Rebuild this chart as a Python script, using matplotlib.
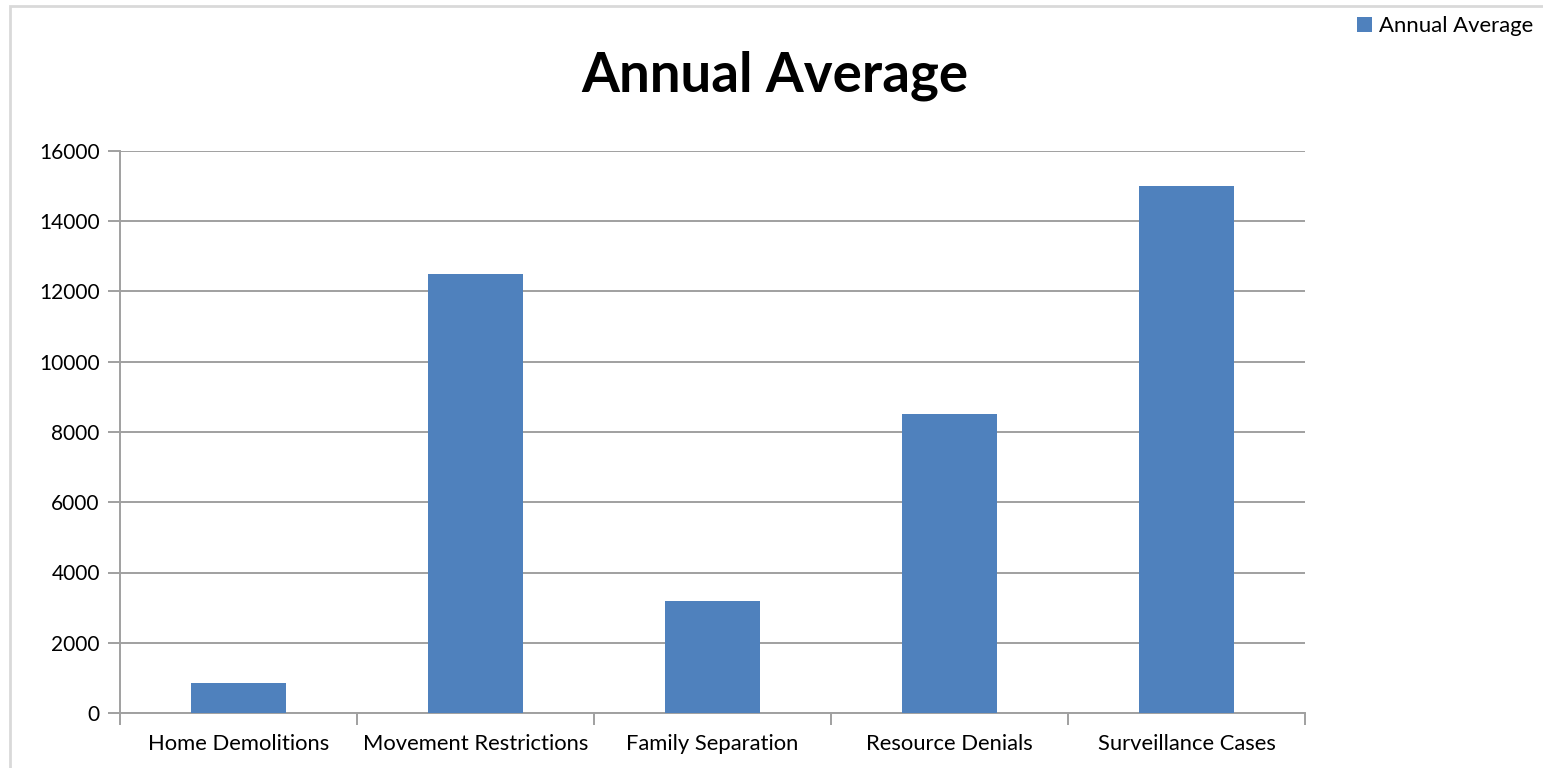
import numpy as np
import matplotlib.pyplot as plt
from matplotlib.patches import Rectangle

plt.rcParams['font.family'] = ['Lato', 'DejaVu Sans']

categories = ['Home Demolitions', 'Movement Restrictions', 'Family Separation',
              'Resource Denials', 'Surveillance Cases']
values = [850, 12500, 3200, 8500, 15000]
series_name = 'Annual Average'

W, H = 1543, 768
fig = plt.figure(figsize=(W / 100, H / 100), dpi=100)

# outer chart frame (light grey)
fig.patches.append(Rectangle((10 / W, -0.1), 2, (H - 6) / H + 0.1, transform=fig.transFigure,
                             fill=False, edgecolor='#d9d9d9', linewidth=2))

ax = fig.add_axes([120 / W, (H - 713) / H, (1305 - 120) / W, (713 - 151) / H])
x = np.arange(len(categories))
ax.bar(x, values, width=0.4, color='#4f81bd', label=series_name, zorder=3)

ax.set_xlim(-0.5, len(categories) - 0.5)
ax.set_ylim(0, 16000)
ax.set_yticks(np.arange(0, 16001, 2000))
ax.set_xticks(x)
ax.set_xticklabels(categories)
ax.set_xticks(np.arange(-0.5, len(categories)), minor=True)

grid_c = '#a0a0a0'
ax.grid(axis='y', color=grid_c, linewidth=1.4, zorder=0)
for s in ['top', 'right']:
    ax.spines[s].set_visible(False)
for s in ['left', 'bottom']:
    ax.spines[s].set_color(grid_c)
    ax.spines[s].set_linewidth(1.4)

ax.tick_params(axis='y', length=8.5, width=1.4, color=grid_c, pad=6, labelsize=15)
ax.tick_params(axis='x', which='major', length=0, pad=15, labelsize=15.8)
ax.tick_params(axis='x', which='minor', length=8.5, width=1.4, color=grid_c)

fig.text(775 / W, 1 - 76 / H, 'Annual Average', ha='center', va='center',
         fontsize=39.3, fontweight='bold')

fig.legend(loc='upper right', bbox_to_anchor=(1542 / W, 1 - 7 / H), frameon=False,
           fontsize=15.9, handlelength=0.68, handleheight=0.68, handletextpad=0.3,
           borderaxespad=0)

fig.savefig('out.png', dpi=100)
